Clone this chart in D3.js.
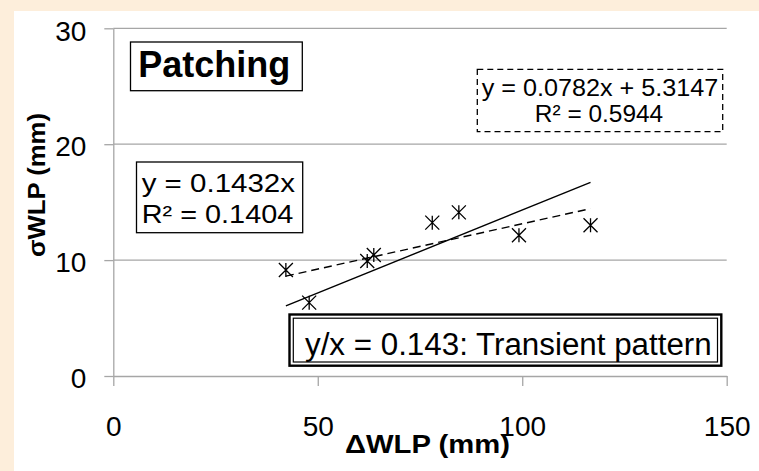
<!DOCTYPE html>
<html>
<head>
<meta charset="utf-8">
<script src="https://cdn.jsdelivr.net/npm/d3@7"></script>
<style>
  html, body { margin: 0; padding: 0; background: #fdeedb; }
  svg { display: block; font-family: "Liberation Sans", Arial, sans-serif; }
</style>
</head>
<body>
<svg id="chart" width="759" height="471"></svg>
<script>
// Patching: ΔWLP vs σWLP observations
const deltaWLP = [42.2, 47.9, 62.1, 63.7, 78.0, 84.5, 99.2, 116.7];
const sigmaWLP = [9.15, 6.33, 9.92, 10.44, 13.23, 14.12, 12.14, 13.0];

// Fitted trend lines
const originSlope = 0.1432;              // y = 0.1432x
const linSlope = 0.0782, linIntercept = 5.3147; // y = 0.0782x + 5.3147

const xTicks = [0, 50, 100, 150];
const yTicks = [0, 10, 20, 30];

const svg = d3.select("#chart");
const W = 759, H = 471;

svg.append("rect").attr("width", W).attr("height", H).attr("fill", "#fdeedb");
svg.append("rect").attr("x", 14).attr("y", 11).attr("width", W - 14).attr("height", H - 11).attr("fill", "#ffffff");

const x = d3.scaleLinear().domain([0, 150]).range([113.3, 726.7]);
const y = d3.scaleLinear().domain([0, 30]).range([376, 28.3]);

const gridColor = "#a6a6a6";
const fontFam = "Liberation Sans, Arial, sans-serif";

// horizontal gridlines
svg.append("g").selectAll("line").data(yTicks.filter(d => d > 0)).join("line")
  .attr("x1", x(0)).attr("x2", x(150))
  .attr("y1", d => y(d)).attr("y2", d => y(d))
  .attr("stroke", gridColor).attr("stroke-width", 1.3);

// y axis
const yAxis = svg.append("g").attr("transform", `translate(${x(0)},0)`)
  .call(d3.axisLeft(y).tickValues(yTicks).tickSize(9).tickSizeOuter(0).tickPadding(18));
yAxis.select(".domain").attr("stroke", gridColor).attr("stroke-width", 1.3);
yAxis.selectAll(".tick line").attr("stroke", gridColor).attr("stroke-width", 1.3);
yAxis.selectAll(".tick text").attr("font-size", 28).attr("font-family", fontFam)
  .attr("fill", "#000").attr("dy", "0.42em");

// x axis
const xAxis = svg.append("g").attr("transform", `translate(0,${y(0)})`)
  .call(d3.axisBottom(x).tickValues(xTicks).tickSize(10).tickSizeOuter(0).tickPadding(30));
xAxis.select(".domain").attr("stroke", gridColor).attr("stroke-width", 1.3);
xAxis.selectAll(".tick line").attr("stroke", gridColor).attr("stroke-width", 1.3);
xAxis.selectAll(".tick text").attr("font-size", 28).attr("font-family", fontFam)
  .attr("fill", "#000");

// axis titles
svg.append("text").attr("x", 427.5).attr("y", 452.5).attr("text-anchor", "middle")
  .attr("font-size", 26).attr("font-weight", "bold")
  .attr("textLength", 165).attr("lengthAdjust", "spacingAndGlyphs")
  .text("ΔWLP (mm)");
svg.append("text").attr("transform", "translate(45,185) rotate(-90)").attr("text-anchor", "middle")
  .attr("font-size", 24).attr("font-weight", "bold")
  .attr("textLength", 144).attr("lengthAdjust", "spacingAndGlyphs")
  .text("σWLP (mm)");

// trend lines over the observed range
const xExt = d3.extent(deltaWLP);
const line = d3.line().x(d => x(d[0])).y(d => y(d[1]));
svg.append("path")
  .attr("d", line(xExt.map(v => [v, originSlope * v])))
  .attr("fill", "none").attr("stroke", "#000").attr("stroke-width", 1.4);
svg.append("path")
  .attr("d", line(xExt.map(v => [v, linSlope * v + linIntercept])))
  .attr("fill", "none").attr("stroke", "#000").attr("stroke-width", 1.4)
  .attr("stroke-dasharray", "8,5");

// star markers
const s = 7;
const marks = svg.append("g").selectAll("g").data(deltaWLP.map((v, i) => [v, sigmaWLP[i]])).join("g")
  .attr("transform", d => `translate(${x(d[0])},${y(d[1])})`);
marks.append("path")
  .attr("d", `M${-s},${-s}L${s},${s}M${-s},${s}L${s},${-s}M0,${-s}L0,${s}`)
  .attr("stroke", "#000").attr("stroke-width", 1.3).attr("fill", "none");

// annotation boxes
function box(x0, y0, x1, y1, w, dash) {
  const r = svg.append("rect").attr("x", x0).attr("y", y0)
    .attr("width", x1 - x0).attr("height", y1 - y0)
    .attr("fill", "#fff").attr("stroke", "#000").attr("stroke-width", w);
  if (dash) r.attr("stroke-dasharray", dash);
  return r;
}
function label(txt, tx, ty, size, len, opts = {}) {
  const t = svg.append("text").attr("x", tx).attr("y", ty).attr("font-size", size)
    .attr("text-anchor", opts.anchor || "start")
    .attr("textLength", len).attr("lengthAdjust", "spacingAndGlyphs").text(txt);
  if (opts.bold) t.attr("font-weight", "bold");
  return t;
}

box(130.5, 42, 302.3, 90.7, 1.3);
label("Patching", 138.3, 77.3, 36, 152, { bold: true });

box(136.5, 162, 302.7, 232.7, 1.3);
label("y = 0.1432x", 141.7, 191.7, 26, 153.3);
label("R² = 0.1404", 141.7, 223.3, 26, 151.6);

box(477.3, 69.3, 722.7, 131.7, 1.3, "6,4");
label("y = 0.0782x + 5.3147", 600, 95.5, 24, 236.7, { anchor: "middle" });
label("R² = 0.5944", 599, 121.5, 24, 128.3, { anchor: "middle" });

box(289.5, 314.5, 721.3, 365.7, 2.4);
box(293.3, 318.2, 717.5, 362, 1.2);
label("y/x = 0.143: Transient pattern", 305, 354.5, 31, 406.7);
</script>
</body>
</html>
